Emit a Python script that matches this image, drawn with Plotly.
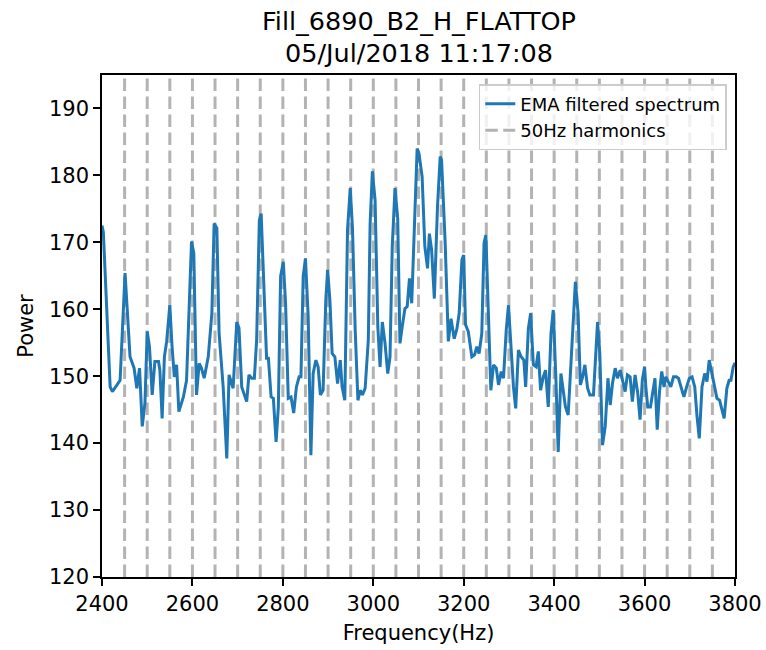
import plotly.graph_objects as go

freq = [2400, 2403, 2418, 2423, 2440, 2451, 2462, 2471, 2477, 2483, 2489, 2495, 2500, 2505, 2511, 2517,
        2525, 2528, 2533, 2538, 2543, 2550, 2555, 2560, 2565, 2570, 2580, 2587, 2598, 2603, 2609, 2615,
        2620, 2626, 2635, 2643, 2648, 2654, 2659, 2668, 2676, 2681, 2690, 2698, 2703, 2709, 2720, 2725,
        2731, 2737, 2742, 2748, 2752, 2764, 2768, 2774, 2779, 2785, 2790, 2795, 2801, 2806, 2812, 2818,
        2824, 2830, 2836, 2840, 2845, 2850, 2856, 2862, 2867, 2873, 2878, 2883, 2889, 2895, 2899, 2904,
        2909, 2915, 2921, 2927, 2931, 2937, 2943, 2949, 2954, 2960, 2966, 2971, 2976, 2982, 2989, 2993,
        2998, 3004, 3010, 3015, 3020, 3026, 3032, 3037, 3042, 3048, 3054, 3059, 3064, 3070, 3075, 3080,
        3085, 3091, 3097, 3101, 3108, 3114, 3120, 3124, 3129, 3135, 3142, 3148, 3151, 3159, 3166, 3172,
        3179, 3185, 3190, 3196, 3200, 3204, 3210, 3218, 3224, 3229, 3234, 3240, 3245, 3249, 3254, 3260,
        3266, 3272, 3277, 3283, 3288, 3294, 3299, 3305, 3310, 3315, 3321, 3327, 3333, 3337, 3343, 3348,
        3354, 3360, 3365, 3370, 3376, 3381, 3387, 3393, 3398, 3404, 3409, 3415, 3420, 3425, 3431, 3439,
        3447, 3453, 3458, 3463, 3468, 3474, 3479, 3487, 3492, 3496, 3501, 3507, 3513, 3519, 3524, 3529,
        3535, 3540, 3546, 3551, 3557, 3562, 3568, 3573, 3579, 3585, 3590, 3595, 3600, 3603, 3607, 3613,
        3620, 3623, 3628, 3633, 3638, 3643, 3647, 3653, 3658, 3664, 3670, 3675, 3681, 3687, 3693, 3699,
        3705, 3711, 3716, 3721, 3727, 3733, 3738, 3743, 3749, 3755, 3760, 3766, 3771, 3776, 3782, 3787,
        3791, 3796, 3800]
power = [172.5, 171.5, 148.4, 147.7, 149.4, 165.4, 152.9, 151.2, 148.2, 151.2, 142.5, 146.0, 156.7, 154.4, 147.2, 152.2,
         152.2, 150.9, 143.7, 152.9, 155.2, 160.6, 154.4, 149.9, 151.7, 144.7, 146.9, 149.4, 170.1, 168.4, 147.2, 151.9,
         151.2, 149.7, 152.9, 159.4, 172.8, 172.1, 156.4, 148.4, 137.7, 150.2, 148.2, 158.1, 157.2, 148.4, 146.2, 150.2,
         149.7, 149.7, 155.4, 173.3, 174.3, 152.7, 152.7, 146.9, 146.7, 140.2, 145.4, 164.9, 167.1, 160.9, 146.7, 146.9,
         144.5, 148.4, 149.9, 149.9, 164.9, 167.6, 158.9, 138.2, 150.4, 152.4, 151.4, 147.2, 147.9, 161.4, 165.9, 161.4,
         153.4, 152.9, 148.9, 152.4, 148.4, 146.4, 171.8, 178.1, 172.1, 156.9, 146.4, 147.9, 147.2, 148.2, 155.4, 172.8,
         180.6, 176.3, 157.4, 151.4, 158.1, 154.9, 150.4, 152.9, 169.4, 178.1, 173.6, 154.9, 157.4, 160.1, 160.4, 164.6,
         160.9, 172.8, 184.0, 183.3, 179.8, 169.4, 166.1, 171.3, 168.9, 161.6, 175.3, 182.8, 182.3, 169.9, 155.2, 158.6,
         155.6, 157.1, 159.4, 167.4, 168.1, 157.7, 156.7, 152.9, 153.2, 154.4, 153.4, 156.4, 169.9, 171.1, 159.4, 147.9,
         151.7, 151.2, 148.7, 150.7, 149.7, 156.9, 160.6, 154.4, 148.4, 145.2, 153.9, 152.9, 152.4, 148.4, 157.1, 159.4,
         151.7, 151.4, 153.7, 147.9, 149.9, 150.9, 145.4, 156.4, 159.9, 149.4, 138.7, 150.4, 147.4, 145.4, 144.2, 153.4,
         164.1, 159.4, 148.7, 149.9, 151.7, 148.2, 147.2, 147.2, 153.4, 158.1, 153.4, 139.7, 142.5, 149.7, 145.7, 148.9,
         151.2, 149.7, 150.9, 149.4, 147.7, 150.2, 149.9, 146.2, 150.2, 147.4, 143.5, 149.4, 151.4, 148.2, 145.4, 145.4,
         148.2, 149.7, 142.0, 147.7, 150.7, 148.4, 149.9, 149.2, 148.4, 149.9, 149.9, 149.7, 148.4, 146.9, 148.4, 149.7,
         149.9, 148.4, 144.0, 140.7, 148.4, 150.4, 149.2, 152.4, 150.4, 148.2, 146.7, 146.4, 145.2, 143.7, 148.2, 149.4,
         149.4, 151.4, 152.0]
harmonics = [2450, 2500, 2550, 2600, 2650, 2700, 2750, 2800, 2850, 2900, 2950, 3000, 3050, 3100,
             3150, 3200, 3250, 3300, 3350, 3400, 3450, 3500, 3550, 3600, 3650, 3700, 3750]
title_lines = ["Fill_6890_B2_H_FLATTOP", "05/Jul/2018 11:17:08"]

y_lo, y_hi = 120, 195
hx, hy = [], []
for h in harmonics:
    hx += [h, h, None]
    hy += [y_lo, y_hi, None]

fig = go.Figure()
fig.add_trace(go.Scatter(x=hx, y=hy, mode="lines", name="50Hz harmonics",
                         line=dict(color="#b3b3b3", width=3, dash="12.5px,5.5px")))
fig.add_trace(go.Scatter(x=freq, y=power, mode="lines", name="EMA filtered spectrum",
                         line=dict(color="#1f77b4", width=3)))

font = "DejaVu Sans, sans-serif"
fig.update_layout(
    width=766, height=650,
    margin=dict(l=102, r=31, t=75, b=73, autoexpand=False),
    paper_bgcolor="white", plot_bgcolor="white",
    font=dict(family=font, size=21, color="black"),
    legend=dict(x=0.987, y=0.982, xanchor="right", yanchor="top", bgcolor="rgba(255,255,255,0.8)",
                bordercolor="#cccccc", borderwidth=1.5, font=dict(size=18, family=font),
                traceorder="reversed", tracegroupgap=0),
    showlegend=True,
)
fig.add_annotation(text=title_lines[0], xref="paper", yref="paper", x=0.5, y=(577 - 21) / 502,
                   xanchor="center", yanchor="middle", showarrow=False, font=dict(size=25.5, family=font))
fig.add_annotation(text=title_lines[1], xref="paper", yref="paper", x=0.5, y=(577 - 53) / 502,
                   xanchor="center", yanchor="middle", showarrow=False, font=dict(size=25.5, family=font))
fig.update_xaxes(range=[2400, 3800], tickvals=[2400, 2600, 2800, 3000, 3200, 3400, 3600, 3800],
                 showgrid=False, zeroline=False, showline=True, linecolor="black", linewidth=1.6,
                 mirror=True, ticks="outside", ticklen=7, tickwidth=1.5, tickcolor="black", automargin=False,
                 title=dict(text="Frequency(Hz)", font=dict(size=21), standoff=10))
fig.update_yaxes(range=[y_lo, y_hi], tickvals=[120, 130, 140, 150, 160, 170, 180, 190],
                 showgrid=False, zeroline=False, showline=True, linecolor="black", linewidth=1.6,
                 mirror=True, ticks="outside", ticklen=7, tickwidth=1.5, tickcolor="black", automargin=False,
                 title=dict(text="Power", font=dict(size=21), standoff=10))
fig.write_html("out.html")
